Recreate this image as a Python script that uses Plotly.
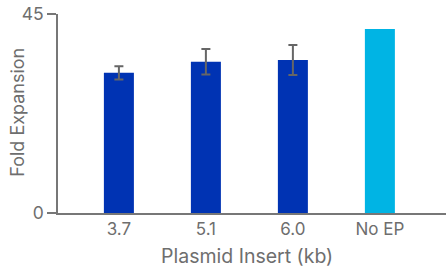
import plotly.graph_objects as go

categories = ["3.7", "5.1", "6.0", "No EP"]
values = [31.7, 34.2, 34.6, 41.6]
errors = [1.5, 2.9, 3.4, 0]
colors = ["#0033b3", "#0033b3", "#0033b3", "#00b4e4"]
y_ticks = [0, 45]
x_title = "Plasmid Insert (kb)"
y_title = "Fold Expansion"

fig = go.Figure()
# bars with error bars (plasmid inserts)
fig.add_trace(go.Bar(
    x=categories[:3], y=values[:3], marker_color=colors[:3], marker_line_width=0,
    error_y=dict(type="data", array=errors[:3], visible=True, color="#666666", thickness=2, width=4.5),
    width=0.345,
))
# control bar without error bar
fig.add_trace(go.Bar(
    x=categories[3:], y=values[3:], marker_color=colors[3:], marker_line_width=0,
    width=0.345,
))

fig.update_layout(
    width=446, height=269,
    margin=dict(l=58, r=0, t=14, b=56),
    plot_bgcolor="white", paper_bgcolor="white",
    showlegend=False, barmode="overlay",
    font=dict(family="Inter", color="#6e6e6e", size=17),
    annotations=[
        dict(text=x_title, xref="paper", yref="paper", x=0.488, y=-0.215,
             xanchor="center", yanchor="middle", showarrow=False,
             font=dict(size=19.5, color="#6e6e6e")),
        dict(text=y_title, xref="paper", yref="paper", x=-0.105, y=0.505,
             xanchor="center", yanchor="middle", showarrow=False, textangle=-90,
             font=dict(size=18, color="#6e6e6e")),
    ],
)
fig.update_xaxes(
    categoryorder="array", categoryarray=categories,
    range=[-0.70, 3.76], showline=True, linecolor="#777777", linewidth=1.5,
    ticks="", showgrid=False, tickfont=dict(size=17, color="#6e6e6e"), automargin=False,
)
fig.update_yaxes(
    range=[0, 45], tickvals=y_ticks, showline=True, linecolor="#777777", linewidth=1.5,
    ticks="outside", ticklen=9, tickcolor="#777777", tickwidth=1.5, showgrid=False, zeroline=False,
    tickfont=dict(size=17.5, color="#6e6e6e"), automargin=False,
    ticksuffix="\u2009\u2009",
)
fig.write_html(
    "out.html",
    config={"displayModeBar": False},
    post_script="document.body.style.margin='0';document.body.style.overflow='hidden';",
)
